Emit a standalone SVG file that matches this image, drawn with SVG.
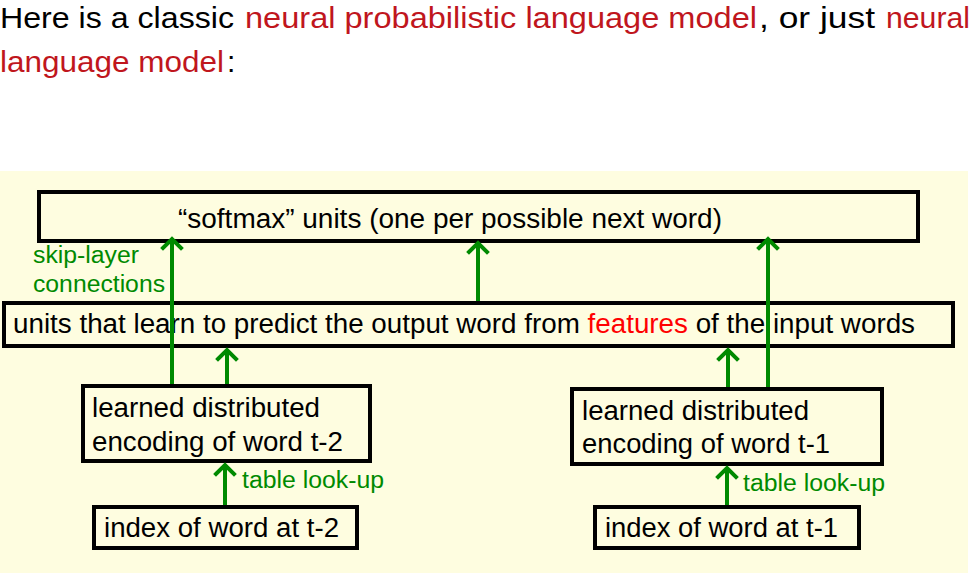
<svg xmlns="http://www.w3.org/2000/svg" width="978" height="573" viewBox="0 0 978 573">
<defs>
<marker id="ah" markerUnits="userSpaceOnUse" markerWidth="26" markerHeight="26" viewBox="-13 -13 26 26" refX="0" refY="0" orient="auto">
<path d="M-9,-9 L0,0 L-9,9" fill="none" stroke="#008a00" stroke-width="4" stroke-linecap="square"/>
</marker>
</defs>
<style>
.hd{font-family:"Liberation Sans",Arial,sans-serif;font-size:30px;fill:#000}
.rd{fill:#c0161d}
.box{fill:none;stroke:#000;stroke-width:4}
.t{font-family:"Liberation Sans",Arial,sans-serif;font-size:27px;fill:#000}
.g{font-family:"Liberation Sans",Arial,sans-serif;font-size:23px;fill:#008a00}
.c{stroke:#008a00;stroke-width:4;fill:none;marker-end:url(#ah)}
</style>
<rect width="978" height="573" fill="#fff"/>
<rect x="0" y="171" width="968" height="402" fill="#fefde0"/>
<g id="header">
<text class="hd" x="0" y="28" textLength="234" lengthAdjust="spacingAndGlyphs">Here is a classic</text>
<text class="hd rd" x="245" y="28" textLength="512" lengthAdjust="spacingAndGlyphs">neural probabilistic language model</text>
<text class="hd" x="759" y="28" textLength="116" lengthAdjust="spacingAndGlyphs">, or just</text>
<text class="hd rd" x="886" y="28" textLength="84" lengthAdjust="spacingAndGlyphs">neural</text>
<text class="hd rd" x="0" y="72" textLength="224" lengthAdjust="spacingAndGlyphs">language model</text>
<text class="hd" x="227" y="72">:</text>
</g>
<g id="softmax">
<rect class="box" x="39" y="192" width="879" height="49"/>
<text class="t" x="178" y="228" textLength="544" lengthAdjust="spacingAndGlyphs">“softmax” units (one per possible next word)</text>
</g>
<g id="hidden">
<rect class="box" x="4" y="303" width="949" height="43"/>
<text class="t" x="13" y="333" textLength="902" lengthAdjust="spacingAndGlyphs">units that learn to predict the output word from <tspan fill="#ff0000">features</tspan> of the input words</text>
</g>
<g id="enc2">
<rect class="box" x="83" y="386" width="287" height="75"/>
<text class="t" x="92" y="417" textLength="228" lengthAdjust="spacingAndGlyphs">learned distributed</text>
<text class="t" x="92" y="451" textLength="251" lengthAdjust="spacingAndGlyphs">encoding of word t-2</text>
</g>
<g id="enc1">
<rect class="box" x="572" y="389" width="310" height="75"/>
<text class="t" x="582" y="420" textLength="227" lengthAdjust="spacingAndGlyphs">learned distributed</text>
<text class="t" x="582" y="453" textLength="248" lengthAdjust="spacingAndGlyphs">encoding of word t-1</text>
</g>
<g id="idx2">
<rect class="box" x="94" y="507" width="263" height="41"/>
<text class="t" x="104" y="537" textLength="235" lengthAdjust="spacingAndGlyphs">index of word at t-2</text>
</g>
<g id="idx1">
<rect class="box" x="595" y="507" width="264" height="41"/>
<text class="t" x="605" y="537" textLength="233" lengthAdjust="spacingAndGlyphs">index of word at t-1</text>
</g>
<g id="labels">
<text class="g" x="33" y="263" textLength="106" lengthAdjust="spacingAndGlyphs">skip-layer</text>
<text class="g" x="33" y="292" textLength="132" lengthAdjust="spacingAndGlyphs">connections</text>
<text class="g" x="242" y="488" textLength="142" lengthAdjust="spacingAndGlyphs">table look-up</text>
<text class="g" x="743" y="491" textLength="142" lengthAdjust="spacingAndGlyphs">table look-up</text>
</g>
<g id="connectors">
<line class="c" x1="225" y1="505" x2="225" y2="465"/>
<line class="c" x1="727" y1="505" x2="727" y2="468"/>
<line class="c" x1="227" y1="384" x2="227" y2="350"/>
<line class="c" x1="728" y1="387" x2="728" y2="350"/>
<line class="c" x1="172" y1="384" x2="172" y2="239"/>
<line class="c" x1="768" y1="387" x2="768" y2="239"/>
<line class="c" x1="478" y1="301" x2="478" y2="243"/>
</g>
</svg>
